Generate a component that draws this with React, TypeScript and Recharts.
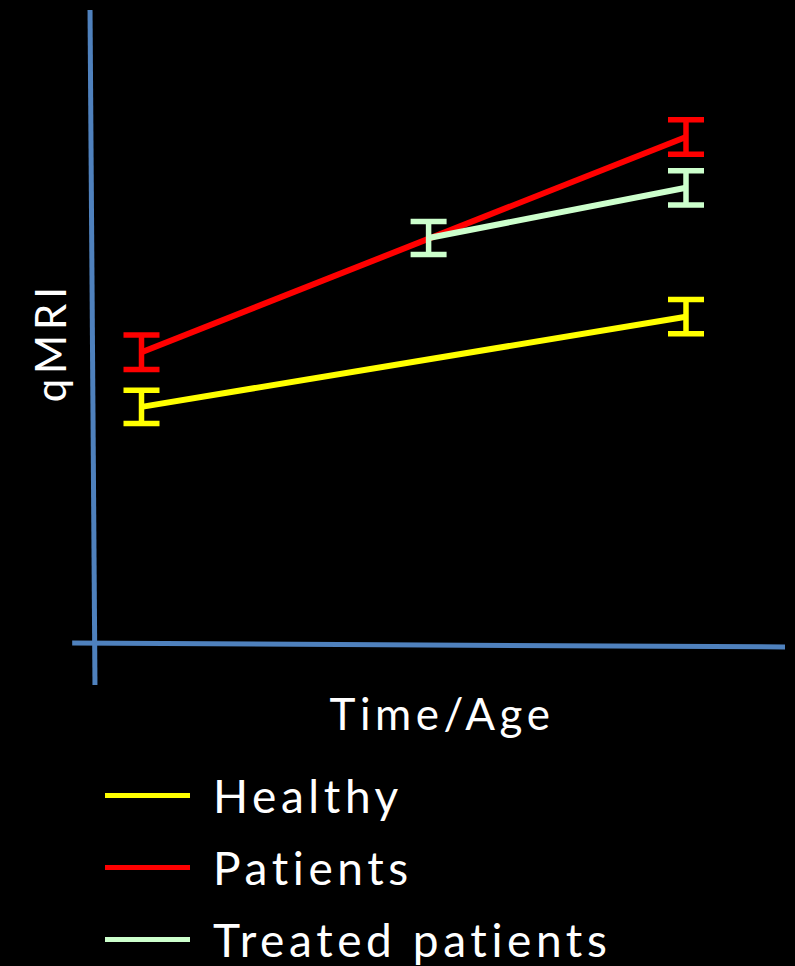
import { LineChart, Line, XAxis, YAxis, ErrorBar, ReferenceLine, Legend } from 'recharts';

// time points (arbitrary units) and qMRI values with their error half-widths
const healthyTime = [1, 12];
const healthyValue = [37.5, 51.7];
const healthyErr = [2.6, 2.7];

const patientTime = [1, 12];
const patientValue = [46.1, 80.0];
const patientErr = [2.7, 2.7];

const treatedTime = [6.8, 12];
const treatedValue = [64.1, 72.0];
const treatedErr = [2.6, 2.7];

const SERIES = [
  { name: 'Healthy', color: '#ffff00', time: healthyTime, value: healthyValue, err: healthyErr },
  { name: 'Patients', color: '#ff0000', time: patientTime, value: patientValue, err: patientErr },
  { name: 'Treated patients', color: '#ccffcc', time: treatedTime, value: treatedValue, err: treatedErr },
];

const AXIS_BLUE = '#4f81bd';
const FONT = 'Lato, "Open Sans", sans-serif';

const toRows = (time: number[], value: number[], err: number[]) =>
  time.map((t, i) => ({ t, v: value[i], e: err[i] }));

function renderLegend(props: any) {
  const items = props.payload ?? [];
  return (
    <div style={{ fontFamily: FONT }}>
      {items.map((it: any) => (
        <div key={it.value} style={{ display: 'flex', alignItems: 'center', height: 72 }}>
          <div style={{ width: 85, height: 5, background: it.color, marginRight: 23 }} />
          <span style={{ color: '#fff', fontSize: 46, letterSpacing: 4.6 }}>{it.value}</span>
        </div>
      ))}
    </div>
  );
}

export default function App() {
  return (
    <div style={{ position: 'absolute', left: 0, top: 0, width: 795, height: 966, background: '#000', overflow: 'hidden' }}>
      <LineChart width={795} height={966} margin={{ top: 10, right: 10, bottom: 321, left: 92 }}>
        <XAxis type="number" dataKey="t" domain={[0, 14]} hide />
        <YAxis type="number" domain={[0, 100]} hide />
        {/* hand-drawn looking axes that cross each other */}
        <ReferenceLine
          segment={[{ x: -0.04, y: 100 }, { x: 0.06, y: -6.3 }]}
          stroke={AXIS_BLUE}
          strokeWidth={5}
          ifOverflow="visible"
        />
        <ReferenceLine
          segment={[{ x: -0.4, y: 0.3 }, { x: 14, y: -0.3 }]}
          stroke={AXIS_BLUE}
          strokeWidth={5}
          ifOverflow="visible"
        />
        {SERIES.map((s) => (
          <Line
            key={s.name}
            data={toRows(s.time, s.value, s.err)}
            dataKey="v"
            name={s.name}
            stroke={s.color}
            strokeWidth={6}
            dot={false}
            activeDot={false}
            isAnimationActive={false}
          >
            <ErrorBar dataKey="e" width={18} stroke={s.color} strokeWidth={5.5} direction="y" />
          </Line>
        ))}
        {/* vertical + center + middle keeps the legend from taking room off the plot */}
        <Legend
          layout="vertical"
          verticalAlign="middle"
          align="center"
          content={renderLegend}
          wrapperStyle={{ left: 105, top: 759, width: 600, transform: 'none' }}
        />
      </LineChart>
      <div
        style={{
          position: 'absolute',
          left: 50,
          top: 342,
          transform: 'translate(-50%, -50%) rotate(-90deg)',
          color: '#fff',
          fontFamily: FONT,
          fontSize: 42,
          letterSpacing: 5,
          whiteSpace: 'nowrap',
        }}
      >
        qMRI
      </div>
      <div
        style={{
          position: 'absolute',
          left: 442,
          top: 713,
          transform: 'translate(-50%, -50%)',
          color: '#fff',
          fontFamily: FONT,
          fontSize: 44,
          letterSpacing: 4.5,
          whiteSpace: 'nowrap',
        }}
      >
        Time/Age
      </div>
    </div>
  );
}
